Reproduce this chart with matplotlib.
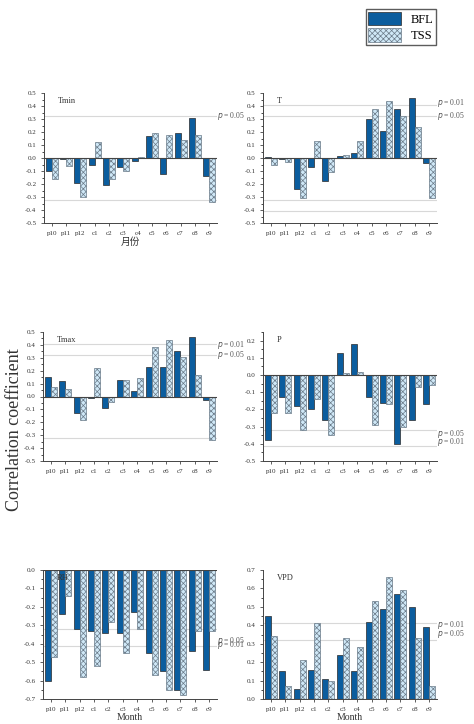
import numpy as np
import matplotlib
matplotlib.use("Agg")
import matplotlib.pyplot as plt
from matplotlib.patches import Patch
from matplotlib.ticker import MultipleLocator

plt.rcParams['font.family'] = ['Liberation Serif', 'Noto Sans CJK SC']
plt.rcParams['hatch.color'] = 'white'
plt.rcParams['hatch.linewidth'] = 0.5

MONTHS = ["p10", "p11", "p12", "c1", "c2", "c3", "c4", "c5", "c6", "c7", "c8", "c9"]

TMIN_BFL = [-0.10, -0.01, -0.19, -0.05, -0.21, -0.07, -0.02, 0.17, -0.12, 0.19, 0.31, -0.14]
TMIN_TSS = [-0.16, -0.06, -0.30, 0.12, -0.16, -0.10, 0.01, 0.19, 0.18, 0.14, 0.18, -0.34]
T_BFL = [0.01, -0.005, -0.24, -0.07, -0.18, 0.015, 0.04, 0.30, 0.21, 0.38, 0.46, -0.035]
T_TSS = [-0.05, -0.03, -0.31, 0.13, -0.11, 0.02, 0.13, 0.38, 0.44, 0.32, 0.24, -0.31]
TMAX_BFL = [0.15, 0.12, -0.13, -0.01, -0.09, 0.13, 0.04, 0.23, 0.23, 0.35, 0.46, -0.03]
TMAX_TSS = [0.07, 0.06, -0.18, 0.22, -0.04, 0.13, 0.14, 0.38, 0.44, 0.31, 0.17, -0.34]
P_BFL = [-0.38, -0.13, -0.18, -0.20, -0.26, 0.13, 0.18, -0.13, -0.16, -0.40, -0.26, -0.17]
P_TSS = [-0.22, -0.22, -0.32, -0.14, -0.35, 0.01, 0.02, -0.29, -0.17, -0.30, -0.07, -0.06]
RH_BFL = [-0.60, -0.24, -0.32, -0.33, -0.34, -0.34, -0.23, -0.45, -0.55, -0.65, -0.44, -0.54]
RH_TSS = [-0.47, -0.14, -0.58, -0.52, -0.28, -0.45, -0.32, -0.57, -0.65, -0.68, -0.33, -0.33]
VPD_BFL = [0.45, 0.15, 0.055, 0.16, 0.11, 0.24, 0.15, 0.42, 0.49, 0.57, 0.50, 0.39]
VPD_TSS = [0.34, 0.07, 0.21, 0.41, 0.10, 0.33, 0.28, 0.53, 0.66, 0.59, 0.33, 0.07]

R05, R01 = 0.32, 0.41
DARK = "#0b5d9e"
LIGHT = "#cfe8f7"

# name, bfl, tss, ylim, lines, labels [(y, text)], xlabel, axes rect in px (l, top, r, bottom)
PANELS = [
    ("Tmin", TMIN_BFL, TMIN_TSS, (-0.5, 0.5), [R05, -R05],
     [(R05, "$p$ = 0.05")], "月份", (44, 93, 217, 223)),
    ("T", T_BFL, T_TSS, (-0.5, 0.5), [R01, R05, -R05, -R01],
     [(R01 + 0.015, "$p$ = 0.01"), (R05 + 0.005, "$p$ = 0.05")], None, (263, 93, 437, 223)),
    ("Tmax", TMAX_BFL, TMAX_TSS, (-0.5, 0.5), [R01, R05, -R05],
     [(R01 - 0.01, "$p$ = 0.01"), (R05 + 0.005, "$p$ = 0.05")], None, (43, 332, 217, 461)),
    ("P", P_BFL, P_TSS, (-0.5, 0.25), [-R05, -R01],
     [(-R05 - 0.025, "$p$ = 0.05"), (-R01 + 0.02, "$p$ = 0.01")], None, (263, 332, 437, 461)),
    ("RH", RH_BFL, RH_TSS, (-0.7, 0.0), [-R05, -R01],
     [(-R05 - 0.065, "$p$ = 0.05"), (-R01 + 0.005, "$p$ = 0.01")], "Month", (43, 570, 217, 699)),
    ("VPD", VPD_BFL, VPD_TSS, (0.0, 0.7), [R01, R05],
     [(R01 - 0.01, "$p$ = 0.01"), (R05 + 0.035, "$p$ = 0.05")], "Month", (263, 570, 437, 699)),
]

W, H = 474, 724
fig = plt.figure(figsize=(W / 100, H / 100), dpi=100)
x = np.arange(len(MONTHS))
bw = 0.42

for name, bfl, tss, ylim, lines, labels, xlabel, (l, t, r, b) in PANELS:
    ax = fig.add_axes([l / W, 1 - b / H, (r - l) / W, (b - t) / H])
    for y in lines:
        ax.axhline(y, color="#d8d8d8", lw=0.8, zorder=0)
    ax.bar(x - bw / 2, bfl, bw, color=DARK, edgecolor="#2a2a2a", lw=0.5, zorder=2)
    ax.bar(x + bw / 2, tss, bw, color=LIGHT, edgecolor="#6a7a88", lw=0.5, hatch="xxxxxx", zorder=2)
    ax.axhline(0, color="#444444", lw=0.8, zorder=3)
    ax.set_xlim(-0.55, len(MONTHS) - 0.45)
    ax.set_ylim(*ylim)
    ax.yaxis.set_major_locator(MultipleLocator(0.1))
    ax.yaxis.set_minor_locator(MultipleLocator(0.05))
    ax.yaxis.set_major_formatter(matplotlib.ticker.FormatStrFormatter("%.1f"))
    ax.set_xticks(x)
    ax.set_xticklabels(MONTHS)
    ax.tick_params(labelsize=5, length=2, width=0.6, color="#444444", labelcolor="#333333")
    ax.tick_params(which="minor", length=1.2, width=0.5)
    for s in ("top", "right"):
        ax.spines[s].set_visible(False)
    for s in ("left", "bottom"):
        ax.spines[s].set_linewidth(0.7)
        ax.spines[s].set_color("#444444")
    ax.text(0.08, 0.97, name, transform=ax.transAxes, fontsize=6, va="top", color="#333333")
    for y, txt in labels:
        ax.text(1.0, y, txt, transform=ax.get_yaxis_transform(), fontsize=5.5,
                va="center", ha="left", color="#555555")
    if xlabel:
        ax.set_xlabel(xlabel, fontsize=7, labelpad=1, color="#333333")

fig.text(15 / W, 1 - 430 / H, "Correlation coefficient", rotation=90, fontsize=13,
         ha="center", va="center", color="#333333")

handles = [Patch(facecolor=DARK, edgecolor="#2a2a2a", lw=0.5),
           Patch(facecolor=LIGHT, edgecolor="#6a7a88", lw=0.5, hatch="xxxxxx")]
fig.legend(handles, ["BFL", "TSS"], loc="upper right", bbox_to_anchor=(442 / W, 1 - 3 / H),
           fontsize=9, frameon=True, fancybox=False, edgecolor="#333333",
           handlelength=2.6, handleheight=1.3, borderpad=0.2, labelspacing=0.2)

fig.savefig("out.png", dpi=100)
